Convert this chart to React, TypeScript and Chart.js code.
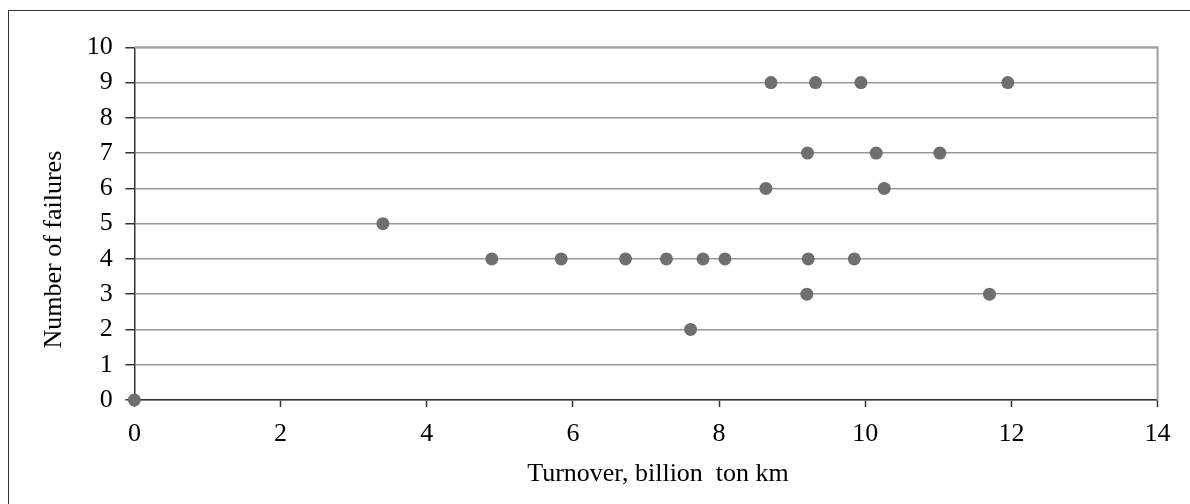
import React, { useEffect, useRef } from "react";
import { Chart, registerables } from "chart.js";

Chart.register(...registerables);

const turnover = [0, 3.4, 4.89, 5.84, 6.72, 7.28, 7.78, 8.08, 9.22, 9.85, 7.61, 9.2, 11.7, 8.64, 10.26, 9.21, 10.15, 11.02, 8.71, 9.32, 9.94, 11.95];
const failures = [0, 5, 4, 4, 4, 4, 4, 4, 4, 4, 2, 3, 3, 6, 6, 7, 7, 7, 9, 9, 9, 9];
const xTitle = "Turnover, billion  ton km";
const yTitle = "Number of failures";

const FONT = "'Liberation Serif', 'Times New Roman', serif";

export default function App() {
  const ref = useRef<HTMLCanvasElement | null>(null);

  useEffect(() => {
    if (!ref.current) return;
    const points = turnover.map((x, i) => ({ x, y: failures[i] }));
    const frame = {
      id: "frame",
      beforeDatasetsDraw(chart: any) {
        const { ctx, chartArea } = chart;
        ctx.save();
        ctx.strokeStyle = "#a0a0a0";
        ctx.lineWidth = 2;
        ctx.beginPath();
        ctx.moveTo(chartArea.left, chartArea.top);
        ctx.lineTo(chartArea.right, chartArea.top);
        ctx.lineTo(chartArea.right, chartArea.bottom);
        ctx.stroke();
        ctx.restore();
      },
      afterDraw(chart: any) {
        const { ctx, chartArea } = chart;
        ctx.save();
        ctx.fillStyle = "#000";
        ctx.font = `26px ${FONT}`;
        ctx.textAlign = "center";
        ctx.textBaseline = "middle";
        // x-axis title, sitting slightly right of the plot centre as in the source
        ctx.fillText(xTitle, (chartArea.left + chartArea.right) / 2 + 12, chart.height - 22);
        // y-axis title, sitting slightly below the plot centre as in the source
        ctx.translate(45.5, (chartArea.top + chartArea.bottom) / 2 + 26);
        ctx.rotate(-Math.PI / 2);
        ctx.fillText(yTitle, 0, 0);
        ctx.restore();
      },
    };
    const chart = new Chart(ref.current, {
      type: "scatter",
      data: {
        datasets: [
          {
            data: points,
            backgroundColor: "#6f6f6f",
            borderColor: "#6f6f6f",
            pointRadius: 6.5,
            pointHoverRadius: 6.5,
            borderWidth: 0,
            clip: false as any,
          },
        ],
      },
      options: {
        animation: false,
        responsive: false,
        events: [],
        layout: { padding: { top: 36.3, right: 22.6, left: 0, bottom: 0 } },
        plugins: { legend: { display: false }, tooltip: { enabled: false } },
        scales: {
          x: {
            type: "linear",
            min: 0,
            max: 14,
            afterFit(scale: any) {
              scale.height = 96;
            },
            ticks: {
              stepSize: 2,
              color: "#000",
              font: { family: FONT, size: 26, lineHeight: 1.2 },
              padding: 11.4,
            },
            grid: {
              display: true,
              drawOnChartArea: false,
              drawTicks: true,
              tickLength: 7,
              tickColor: "#333",
              tickWidth: 1.5,
            },
            border: { color: "#333", width: 1.5 },
            title: { display: false },
          },
          y: {
            type: "linear",
            min: 0,
            max: 10,
            afterFit(scale: any) {
              scale.width = 125.4;
            },
            ticks: {
              stepSize: 1,
              color: "#000",
              font: { family: FONT, size: 26, lineHeight: 1.2 },
              padding: 12.7,
            },
            grid: {
              color: "#999",
              lineWidth: 1.5,
              tickLength: 9,
              tickColor: "#333",
              tickWidth: 1.5,
            },
            border: { color: "#333", width: 1.5 },
            title: { display: false },
          },
        },
      },
      plugins: [frame],
    });
    return () => chart.destroy();
  }, []);

  return (
    <div
      style={{
        position: "fixed",
        left: 8,
        top: 10,
        width: 1182,
        height: 494,
        borderTop: "1px solid #333",
        borderLeft: "1px solid #333",
        boxSizing: "border-box",
        background: "#fff",
      }}
    >
      <canvas ref={ref} width={1173} height={485} style={{ display: "block", width: 1173, height: 485 }} />
    </div>
  );
}
